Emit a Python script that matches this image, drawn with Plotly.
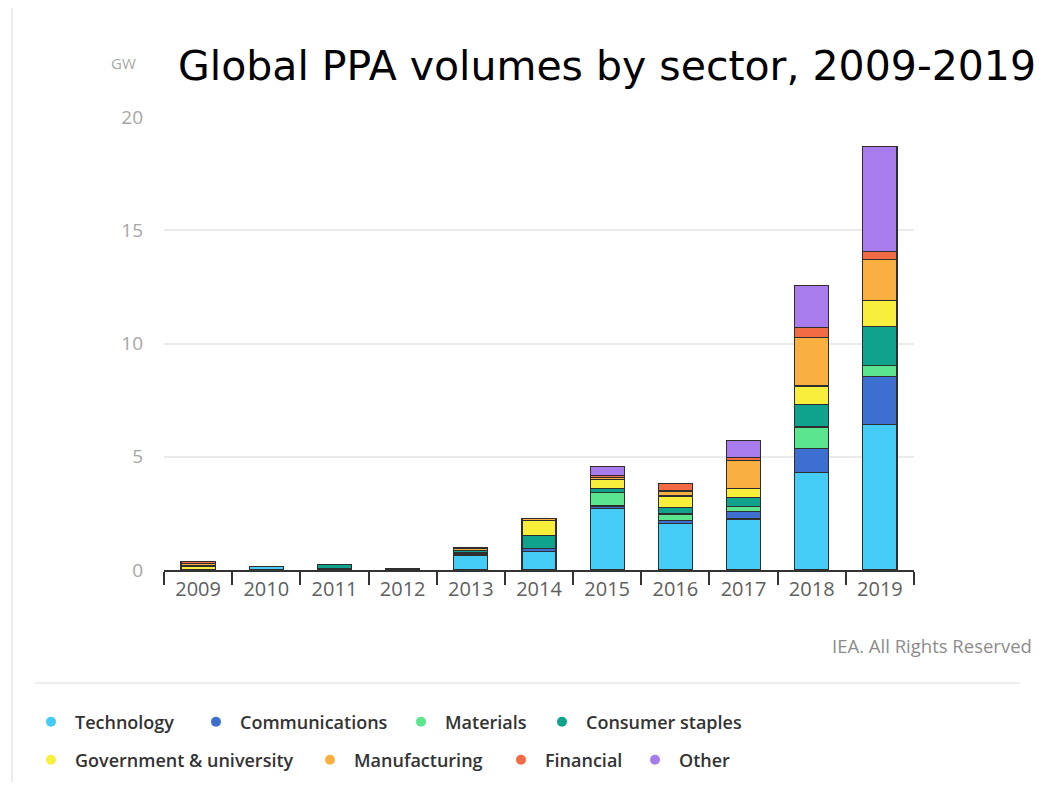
import plotly.graph_objects as go

years = ["2009", "2010", "2011", "2012", "2013", "2014", "2015", "2016", "2017", "2018", "2019"]

technology = [0, 0.15, 0, 0, 0.66, 0.81, 2.72, 2.07, 2.25, 4.30, 6.43]
communications = [0, 0, 0, 0.05, 0.07, 0.15, 0.11, 0.10, 0.32, 1.07, 2.13]
materials = [0, 0, 0.08, 0, 0.06, 0, 0.59, 0.30, 0.22, 0.94, 0.47]
consumer_staples = [0, 0, 0.15, 0, 0.06, 0.58, 0.18, 0.29, 0.41, 1.00, 1.73]
government = [0.18, 0, 0, 0, 0, 0.63, 0.41, 0.51, 0.40, 0.81, 1.14]
manufacturing = [0.10, 0, 0, 0, 0.12, 0.12, 0.08, 0.22, 1.25, 2.13, 1.80]
financial = [0.10, 0, 0, 0, 0, 0, 0.10, 0.33, 0.11, 0.44, 0.37]
other = [0, 0, 0, 0, 0, 0, 0.39, 0, 0.77, 1.88, 4.62]

sectors = ["Technology", "Communications", "Materials", "Consumer staples",
           "Government & university", "Manufacturing", "Financial", "Other"]
values = [technology, communications, materials, consumer_staples,
          government, manufacturing, financial, other]
colors = ["#44ccf6", "#3d6fd0", "#5ce58f", "#0fa38e",
          "#f8ee3c", "#f9b040", "#f26b45", "#a87cec"]

# legend marker spots in page pixels (two rows, like the source)
legend_x = [52, 217, 422, 563, 52, 331, 522, 656]
legend_y = [722, 722, 722, 722, 760, 760, 760, 760]

# the page body has an 8px margin, so work in page pixels and shift
OFF = 8
W, H = 1058 - 2 * OFF, 790 - 2 * OFF
PLOT_L, PLOT_R, PLOT_T, PLOT_B = 164 - OFF, 914 - OFF, 117 - OFF, 570 - OFF


def px(x):
    return (x - OFF - PLOT_L) / (PLOT_R - PLOT_L)


def py(y):
    return (PLOT_B - (y - OFF)) / (PLOT_B - PLOT_T)


fig = go.Figure()

for name, vals, color in zip(sectors, values, colors):
    fig.add_trace(
        go.Bar(
            x=years,
            y=[v if v else None for v in vals],
            name=name,
            marker={"color": color, "line": {"color": "#2e2e2e", "width": 1.2}},
            showlegend=False,
        )
    )

legend_font = {"family": "Open Sans", "size": 18, "color": "#333333", "weight": 600}
legends = {}
for i, (name, color) in enumerate(zip(sectors, colors)):
    key = "legend" if i == 0 else f"legend{i + 1}"
    # one small legend per entry so each sits where the source has it
    fig.add_trace(
        go.Scatter(
            x=[None],
            y=[None],
            mode="markers",
            name=name,
            marker={"color": color, "size": 10},
            legend=key,
        )
    )
    legends[key] = {
        "orientation": "h",
        "xref": "container",
        "yref": "container",
        "x": (legend_x[i] - 25 - OFF) / W,
        "y": 1 - (legend_y[i] - OFF) / H,
        "xanchor": "left",
        "yanchor": "middle",
        "itemwidth": 38,
        "font": legend_font,
        "bgcolor": "rgba(0,0,0,0)",
    }

fig.update_layout(
    width=W,
    height=H,
    barmode="stack",
    bargap=0.5,
    plot_bgcolor="white",
    paper_bgcolor="white",
    margin={"l": PLOT_L, "r": W - PLOT_R, "t": PLOT_T, "b": H - PLOT_B},
    title={
        "text": "Global PPA volumes by sector, 2009-2019",
        "font": {"family": "DejaVu Sans", "size": 41, "color": "black"},
        "xref": "container",
        "yref": "container",
        "x": (178 - OFF) / W,
        "xanchor": "left",
        "y": 1 - (66 - OFF) / H,
        "yanchor": "middle",
    },
    xaxis={
        "type": "category",
        "showline": True,
        "linecolor": "#333333",
        "linewidth": 1.5,
        "ticks": "outside",
        "tickson": "boundaries",
        "ticklen": 13,
        "tickwidth": 1.5,
        "tickcolor": "#333333",
        "tickfont": {"family": "Open Sans", "size": 20, "color": "#606060"},
        "showgrid": False,
    },
    yaxis={
        "range": [0, 20],
        "tickvals": [0, 5, 10, 15, 20],
        "showgrid": True,
        "gridcolor": "#ebebeb",
        "gridwidth": 1.5,
        "zeroline": False,
        "showline": False,
        "ticks": "",
        "ticklabelstandoff": 20,
        "tickfont": {"family": "Open Sans", "size": 19, "color": "#a6a6a6"},
    },
    shapes=[
        {
            "type": "line",
            "xref": "paper",
            "yref": "paper",
            "x0": px(12),
            "x1": px(12),
            "y0": py(790),
            "y1": py(0),
            "line": {"color": "#e6e6e6", "width": 1.5},
        },
        {
            "type": "line",
            "xref": "paper",
            "yref": "paper",
            "x0": px(35),
            "x1": px(1020),
            "y0": py(683),
            "y1": py(683),
            "line": {"color": "#e9e9e9", "width": 1.5},
        },
    ],
    annotations=[
        {
            "text": "GW",
            "xref": "paper",
            "yref": "paper",
            "x": px(123),
            "y": py(63),
            "showarrow": False,
            "xanchor": "center",
            "yanchor": "middle",
            "font": {"family": "Open Sans", "size": 15, "color": "#a8a8a8"},
        },
        {
            "text": "IEA. All Rights Reserved",
            "xref": "paper",
            "yref": "paper",
            "x": px(1034),
            "y": py(645),
            "showarrow": False,
            "xanchor": "right",
            "yanchor": "middle",
            "font": {"family": "Open Sans", "size": 18.5, "color": "#8c8c8c"},
        },
    ],
    **legends,
)

fig.write_html("out.html")
